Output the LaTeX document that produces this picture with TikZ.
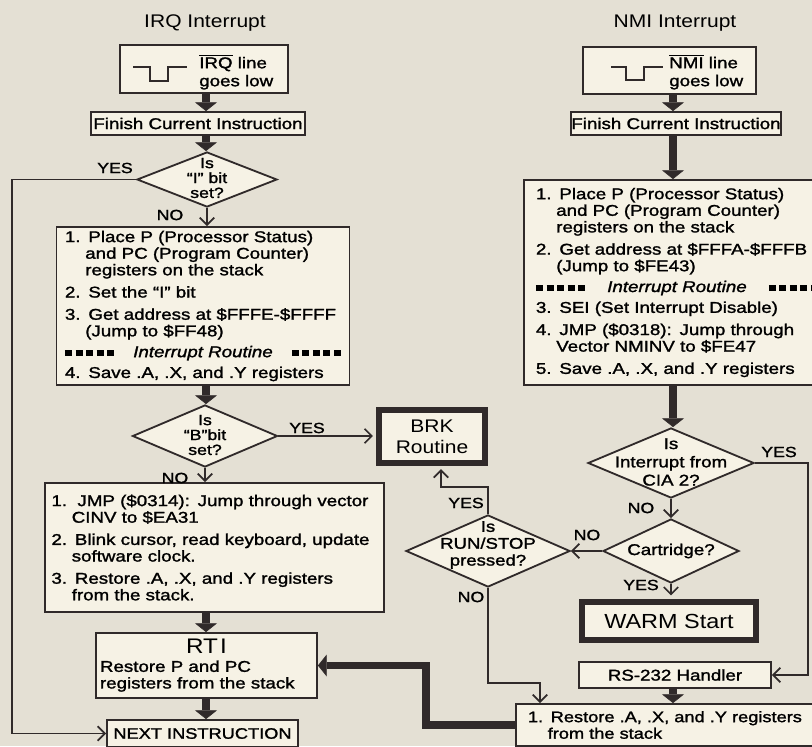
\documentclass[tikz,border=0pt]{standalone}
\usepackage{fontspec}
\setmainfont{Liberation Sans}[FakeStretch=1.2,FakeBold=1.5]
\newfontfamily\plainfont{Liberation Sans}[FakeStretch=1.15]
\usetikzlibrary{shapes.geometric,arrows.meta}

\definecolor{paper}{RGB}{228,224,212}
\definecolor{boxfill}{RGB}{246,242,229}
\definecolor{ink}{RGB}{48,42,42}

\newcommand\ind{\hspace*{1.3em}}
\newcommand\sqbox{\raisebox{0.8pt}{\rule{5pt}{4.5pt}}}
\newcommand\sqrow{\sqbox\hspace{2.5pt}\sqbox\hspace{2.5pt}\sqbox\hspace{2.5pt}\sqbox\hspace{2.5pt}\sqbox}
\newcommand\intline{\makebox[\linewidth][s]{\sqrow\hfill\textit{Interrupt Routine}\hfill\sqrow}}

\tikzset{
  stepbox/.style={draw=ink, fill=boxfill, line width=1.3pt, inner sep=0pt},
  hardbox/.style={draw=ink, fill=boxfill, line width=4.5pt, inner sep=0pt},
  decision/.style={diamond, draw=ink, fill=boxfill, line width=1.3pt, inner sep=0pt},
  asktext/.style={align=center, inner sep=0pt},
  fat/.style={ink, line width=5.5pt, line join=miter,
    -{Triangle[length=0.22cm,width=0.55cm,line width=0.4pt]}},
  flow/.style={ink, line width=1.2pt, -{Straight Barb[length=0.18cm,width=0.36cm]}},
  answer/.style={font=\fontsize{10.5}{11}\selectfont, inner sep=0pt},
  title/.style={font=\plainfont\fontsize{13}{14}\selectfont},
}

\begin{document}
\begin{tikzpicture}[x=0.025cm, y=-0.025cm, font=\fontsize{11.1}{11.8}\selectfont]
\useasboundingbox (0,0) rectangle (812,746);
\fill[paper] (0,0) rectangle (812,746);

\coordinate (axL) at (206,0);
\coordinate (axR) at (673,0);

% IRQ side
\node[title] (irqtitle) at (205,23) {IRQ Interrupt};
\node[stepbox, minimum width=4.2cm, minimum height=1.2cm] (irq) at (204,69) {};
\draw[ink, line width=1.3pt] (133,67) -| (150,81) -| (168,67) -- (187,67);
\node[anchor=west, align=left, inner sep=0pt] (irqtxt) at (199,72) {$\overline{\mbox{IRQ}}$ line\\[1pt]goes low};

\node[stepbox, minimum width=5.35cm, minimum height=0.575cm] (fin1) at (198,123.5) {Finish Current Instruction};

\node[decision, minimum width=3.5cm, minimum height=1.375cm] (dI) at (207,179.5) {};
\node[asktext, font=\fontsize{10.5}{10.6}\selectfont] (dItxt) at (207,178) {Is\\``I'' bit\\set?};

\node[stepbox, text width=6.9cm, minimum width=7.325cm, minimum height=3.95cm, align=left] (box1) at (203,306) {%
1. Place P (Processor Status)\\
\ind and PC (Program Counter)\\
\ind registers on the stack\\[4pt]
2. Set the ``I'' bit\\[4pt]
3. Get address at \$FFFE-\$FFFF\\
\ind (Jump to \$FF48)\\[3pt]
\intline\\[3pt]
4. Save .A, .X, and .Y registers};

\node[decision, minimum width=3.625cm, minimum height=1.55cm] (dB) at (205,436) {};
\node[asktext, font=\fontsize{10.5}{10.6}\selectfont] (dBtxt) at (205,435) {Is\\``B''bit\\set?};

\node[hardbox, align=center, font=\plainfont\fontsize{13}{15}\selectfont, minimum width=2.64cm, minimum height=1.32cm] (brk) at (432,436.5) {BRK\\Routine};

\node[stepbox, text width=8.15cm, minimum width=8.475cm, minimum height=3.225cm, align=left] (box2) at (214.5,547.5) {%
1.\ \ JMP (\$0314): Jump through vector\\
\ind CINV to \$EA31\\[4pt]
2. Blink cursor, read keyboard, update\\
\ind software clock.\\[4pt]
3. Restore .A, .X, and .Y registers\\
\ind from the stack.};

\node[stepbox, text width=5.325cm, minimum width=5.525cm, minimum height=1.625cm, align=left] (rti) at (206.5,665.5) {%
\makebox[\linewidth]{\plainfont\fontsize{15}{16}\selectfont RT\kern1.5pt I}\\[1pt]
Restore P and PC\\
registers from the stack};

\node[stepbox, minimum width=4.775cm, minimum height=0.675cm, font=\fontsize{10.8}{12}\selectfont] (next) at (202.5,733.5) {NEXT INSTRUCTION};

% NMI side
\node[title] (nmititle) at (675,23) {NMI Interrupt};
\node[stepbox, minimum width=4.325cm, minimum height=1.175cm] (nmi) at (669.5,70.5) {};
\draw[ink, line width=1.3pt] (611,67) -| (626,80) -| (644,67) -- (663,67);
\node[anchor=west, align=left, inner sep=0pt] (nmitxt) at (669,72) {$\overline{\mbox{NMI}}$ line\\[1pt]goes low};

\node[stepbox, minimum width=4.9cm, minimum height=0.575cm] (fin2) at (676,123.5) {Finish Current Instruction};

\node[stepbox, text width=7.05cm, minimum width=7.65cm, minimum height=5.125cm, align=left] (box3) at (677,282.5) {%
1. Place P (Processor Status)\\
\ind and PC (Program Counter)\\
\ind registers on the stack\\[4pt]
2. Get address at \$FFFA-\$FFFB\\
\ind (Jump to \$FE43)\\[3pt]
\intline\\[3pt]
3. SEI (Set Interrupt Disable)\\[4pt]
4. JMP (\$0318): Jump through\\
\ind Vector NMINV to \$FE47\\[4pt]
5. Save .A, .X, and .Y registers};

\node[decision, minimum width=4.15cm, minimum height=1.75cm] (dCIA) at (671,463) {};
\node[asktext, font=\fontsize{11.1}{13}\selectfont] (dCIAtxt) at (671,462) {Is\\Interrupt from\\CIA 2?};

\node[decision, minimum width=3.4cm, minimum height=1.6cm] (dCart) at (671,551) {};
\node[asktext] (dCarttxt) at (671,551) {Cartridge?};

\node[decision, minimum width=4.1cm, minimum height=1.8cm] (dRun) at (488,551) {};
\node[asktext, font=\fontsize{11}{12}\selectfont] (dRuntxt) at (488,545) {Is\\RUN/STOP\\pressed?};

\node[hardbox, font=\plainfont\fontsize{14.5}{16}\selectfont, minimum width=4.34cm, minimum height=0.965cm] (warm) at (669,621) {WARM Start};

\node[stepbox, minimum width=4.8cm, minimum height=0.65cm] (rs) at (675,675) {RS-232 Handler};

\node[stepbox, text width=7.25cm, minimum width=7.85cm, minimum height=1.05cm, align=left, font=\fontsize{10.8}{11.8}\selectfont] (rest) at (673,725) {%
1. Restore .A, .X, and .Y registers\\
\ind from the stack};

% bends
\coordinate (yesL) at (12,400);
\coordinate (yesR) at (808,600);
\coordinate (yesB) at (441,487);
\coordinate (noB) at (540,683);
\coordinate (bend) at (426,690);

% main flow
\draw[fat] (irq.south -| axL) -- (fin1.north -| axL);
\draw[fat] (fin1.south -| axL) -- (dI.north -| axL);
\draw[fat] (box1.south -| axL) -- (dB.north -| axL);
\draw[fat] (box2.south -| axL) -- (rti.north -| axL);
\draw[fat] (rti.south -| axL) -- (next.north -| axL);
\draw[fat] (nmi.south -| axR) -- (fin2.north -| axR);
\draw[fat] (fin2.south -| axR) -- (box3.north -| axR);
\draw[fat] (box3.south -| axR) -- (dCIA.north -| axR);
\draw[fat] (rs.south -| axR) -- (rest.north -| axR);
\draw[fat] (rest.west) -| (bend) |- (rti.east);

% decisions
\draw[flow] (dI.west) -| (yesL) |- (next.west);
\draw[flow] (dI.south) -- (dI.south |- box1.north);
\draw[flow, shorten >=2.2pt] (dB.east) -- (dB.east -| brk.west);
\draw[flow] (dB.south) -- (dB.south |- box2.north);
\draw[flow] (dCIA.east) -| (yesR) |- (rs.east);
\draw[flow] (dCIA.south) -- (dCart.north);
\draw[flow] (dCart.west) -- (dRun.east);
\draw[flow, shorten >=2.2pt] (dCart.south) -- (dCart.south |- warm.north);
\draw[flow, shorten >=2.2pt] (dRun.north) |- (yesB) -- (yesB |- brk.south);
\draw[flow] (dRun.south) |- (noB) -- (noB |- rest.north);

\node[answer] (yesI) at (115,168) {YES};
\node[answer] (noI) at (170,215) {NO};
\node[answer] (yesBl) at (307,428) {YES};
\node[answer] (noBl) at (175,478) {NO};
\node[answer] (yesCIA) at (779,452) {YES};
\node[answer] (noCIA) at (641,508) {NO};
\node[answer] (noCart) at (587,535) {NO};
\node[answer] (yesCart) at (641,585) {YES};
\node[answer] (yesRun) at (466,503) {YES};
\node[answer] (noRun) at (471,597) {NO};
\end{tikzpicture}
\end{document}
